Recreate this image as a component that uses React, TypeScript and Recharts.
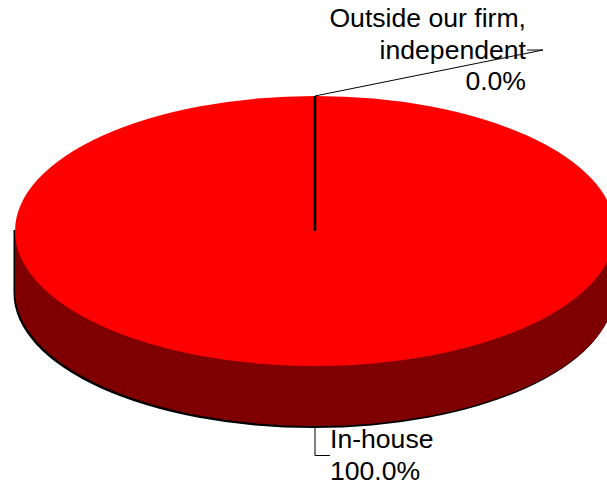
import React from "react";
import { PieChart, Pie, Cell } from "recharts";

const categories = ["In-house", "Outside our firm, independent"];
const shareValues = [100, 0];
const categoryLines = [["In-house"], ["Outside our firm,", "independent"]];
const topColors = ["#ff0000", "#ff0000"];
const wallColor = "#7f0000";

const tableRows = categories.map((name, i) => ({
  name,
  value: shareValues[i],
  lines: categoryLines[i],
}));

const SQUASH = 0.45;
const DEPTH = 0.2;
const FONT = "'Liberation Sans', Arial, sans-serif";

function EllipseSlice(props: any) {
  const { cx, cy, outerRadius, startAngle, endAngle, fill } = props;
  const rx = outerRadius;
  const ry = rx * SQUASH;
  const d = rx * DEPTH;
  const sweep = Math.abs(endAngle - startAngle);
  if (sweep < 0.001) {
    const a = (startAngle * Math.PI) / 180;
    return (
      <line
        x1={cx}
        y1={cy}
        x2={cx + rx * Math.cos(a)}
        y2={cy - ry * Math.sin(a)}
        stroke="#000"
        strokeWidth={2.5}
      />
    );
  }
  const wallFrom = (topY: number) =>
    `M${cx - rx},${topY} L${cx - rx},${cy + d} A${rx},${ry} 0 0 0 ${cx + rx},${cy + d} L${cx + rx},${topY} Z`;
  return (
    <g>
      <path d={wallFrom(cy - 3)} fill="#000" transform="translate(-1.5,2)" />
      <path d={wallFrom(cy)} fill={wallColor} />
      <ellipse cx={cx} cy={cy} rx={rx} ry={ry} fill={fill} />
    </g>
  );
}

function SliceLabel(props: any) {
  const { cx, cy, outerRadius, percent, payload } = props;
  const rx = outerRadius;
  const ry = rx * SQUASH;
  const d = rx * DEPTH;
  const pct = `${(percent * 100).toFixed(1)}%`;
  const lines: string[] = payload.lines;
  const common = { fontFamily: FONT, fontSize: 26.6, fill: "#000" };
  if (payload.value === 0) {
    const top = cy - ry;
    return (
      <g>
        <polyline
          points={`${cx},${top} ${cx + 228},${top - 46} ${cx + 212},${top - 46}`}
          fill="none"
          stroke="#000"
          strokeWidth={1}
        />
        <text {...common} textAnchor="end">
          {[...lines, pct].map((t, i) => (
            <tspan key={i} x={cx + 211} y={top - 69 + i * 31.5}>
              {t}
            </tspan>
          ))}
        </text>
      </g>
    );
  }
  const bottom = cy + ry + d;
  return (
    <g>
      <polyline
        points={`${cx},${bottom} ${cx},${bottom + 29.5} ${cx + 15},${bottom + 29.5}`}
        fill="none"
        stroke="#000"
        strokeWidth={1}
      />
      <text {...common} textAnchor="start">
        {[...lines, pct].map((t, i) => (
          <tspan key={i} x={cx + 15} y={bottom + 22 + i * 31.5}>
            {t}
          </tspan>
        ))}
      </text>
    </g>
  );
}

export default function App() {
  return (
    <div style={{ position: "absolute", left: 0, top: 0, width: 607, height: 484, overflow: "hidden", background: "#fff" }}>
      <PieChart width={607} height={484} margin={{ top: 0, right: 0, bottom: 0, left: 0 }}>
        <Pie
          data={tableRows}
          dataKey="value"
          nameKey="name"
          cx={315}
          cy={231}
          innerRadius={0}
          outerRadius={300}
          startAngle={90}
          endAngle={-270}
          paddingAngle={0}
          minAngle={0}
          stroke="none"
          isAnimationActive={false}
          shape={EllipseSlice}
          label={SliceLabel}
          labelLine={false}
        >
          {tableRows.map((r, i) => (
            <Cell key={r.name} fill={topColors[i]} />
          ))}
        </Pie>
      </PieChart>
    </div>
  );
}
